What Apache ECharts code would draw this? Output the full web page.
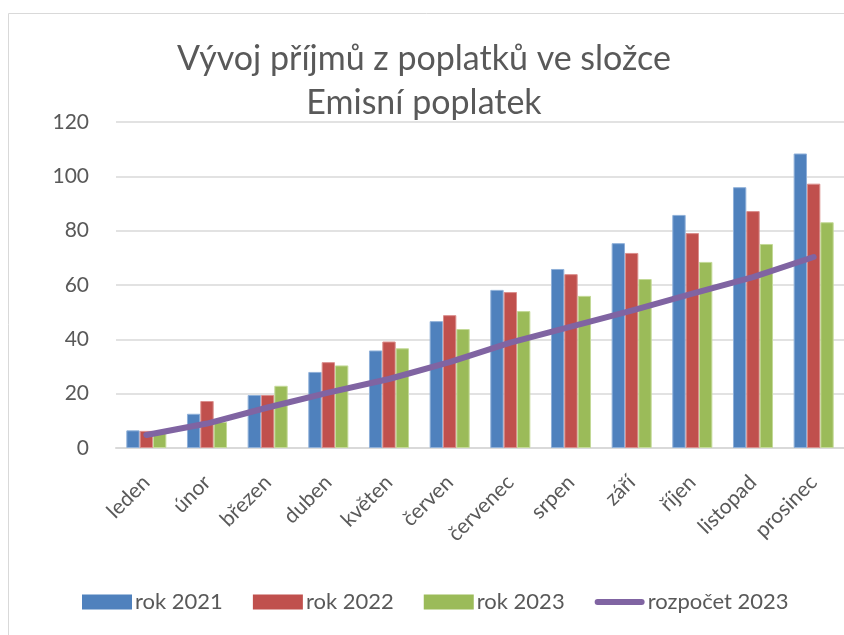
<!DOCTYPE html>
<html>
<head>
<meta charset="utf-8">
<script src="https://cdn.jsdelivr.net/npm/echarts@6/dist/echarts.min.js"></script>
<style>
  html, body { margin: 0; padding: 0; background: #fff; }
  #chart { width: 844px; height: 635px; }
</style>
</head>
<body>
<div id="chart"></div>
<script>
var months = ['leden', 'únor', 'březen', 'duben', 'květen', 'červen', 'červenec', 'srpen', 'září', 'říjen', 'listopad', 'prosinec'];
var rok2021 = [6.5, 12.6, 19.5, 28.0, 35.9, 46.7, 58.2, 65.9, 75.4, 85.8, 96.0, 108.4];
var rok2022 = [6.3, 17.3, 19.5, 31.6, 39.2, 48.9, 57.4, 64.0, 71.8, 79.1, 87.2, 97.3];
var rok2023 = [5.6, 9.6, 22.9, 30.4, 36.7, 43.8, 50.4, 56.0, 62.2, 68.5, 75.1, 83.1];
var rozpocet2023 = [4.8, 9.0, 14.9, 20.4, 25.4, 31.6, 38.8, 44.7, 50.6, 56.8, 62.9, 70.3];
var yTicks = [0, 20, 40, 60, 80, 100, 120];

var textColor = '#595959';
var gridColor = '#D9D9D9';
var font = 'Lato';
// thin rounded bar used as the legend mark of the budget line
var lineIcon = 'path://M3,0 L47,0 A3,3 0 0 1 47,6 L3,6 A3,3 0 0 1 3,0 Z';

var chart = echarts.init(document.getElementById('chart'));

function barSeries(name, data, color, border) {
    return {
        name: name,
        type: 'bar',
        data: data,
        barGap: '0%',
        barCategoryGap: '34%',
        itemStyle: { color: color, borderColor: border, borderWidth: 1 }
    };
}

chart.setOption({
    animation: false,
    textStyle: { fontFamily: font },
    graphic: [{
        type: 'rect',
        shape: { x: 8.5, y: 13.5, width: 900, height: 700 },
        style: { fill: 'none', stroke: gridColor, lineWidth: 1 },
        silent: true
    }],
    title: {
        text: 'Vývoj příjmů z poplatků ve složce\nEmisní poplatek',
        left: 419,
        textAlign: 'center',
        top: 32,
        textStyle: { fontFamily: font, fontSize: 34, fontWeight: 'normal', color: textColor, lineHeight: 44 }
    },
    legend: {
        left: 82,
        top: 591,
        padding: 0,
        itemWidth: 50,
        itemHeight: 15,
        itemGap: 30,
        itemStyle: { borderWidth: 0 },
        textStyle: { fontFamily: font, fontSize: 22, color: textColor, padding: [0, 0, 0, -2] },
        data: [
            { name: 'rok 2021', icon: 'rect' },
            { name: 'rok 2022', icon: 'rect' },
            { name: 'rok 2023', icon: 'rect' },
            { name: 'rozpočet 2023', icon: lineIcon }
        ]
    },
    grid: { left: 116, top: 122, width: 735, height: 326 },
    xAxis: {
        type: 'category',
        data: months,
        axisLine: { lineStyle: { color: gridColor, width: 2 } },
        axisTick: { show: false },
        axisLabel: { rotate: 45, margin: 31, fontFamily: font, fontSize: 21, color: textColor, interval: 0 }
    },
    yAxis: {
        type: 'value',
        min: yTicks[0],
        max: yTicks[yTicks.length - 1],
        interval: 20,
        axisLine: { show: false },
        axisTick: { show: false },
        splitLine: { lineStyle: { color: gridColor, width: 1.5 } },
        axisLabel: { margin: 27, fontFamily: font, fontSize: 21, color: textColor }
    },
    series: [
        barSeries('rok 2021', rok2021, '#4F81BD', '#8FB0D9'),
        barSeries('rok 2022', rok2022, '#C0504D', '#DB8F8D'),
        barSeries('rok 2023', rok2023, '#9BBB59', '#C4DA98'),
        {
            name: 'rozpočet 2023',
            type: 'line',
            data: rozpocet2023,
            symbol: 'none',
            lineStyle: { color: '#8064A2', width: 6, cap: 'round', join: 'round' },
            itemStyle: { color: '#8064A2' }
        }
    ]
});
</script>
</body>
</html>
